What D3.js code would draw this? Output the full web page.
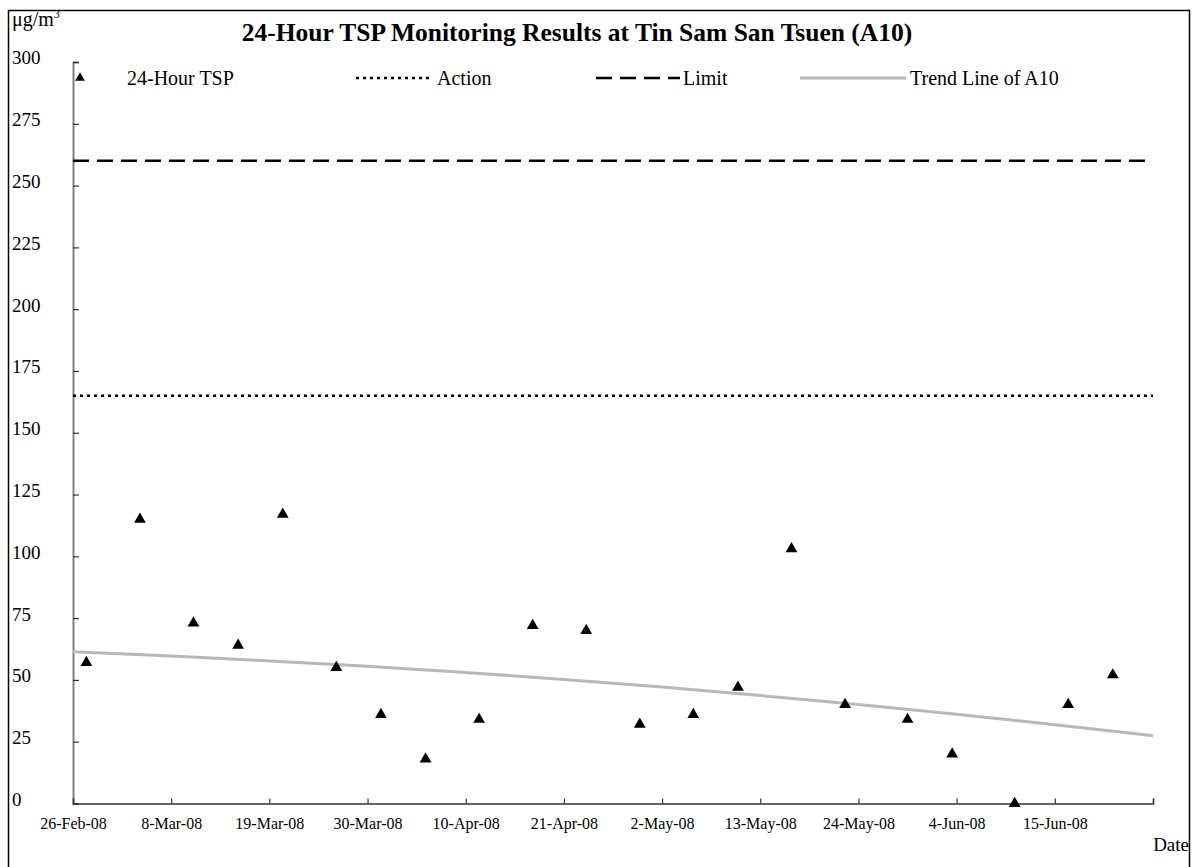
<!DOCTYPE html>
<html>
<head>
<meta charset="utf-8">
<script src="https://cdn.jsdelivr.net/npm/d3@7"></script>
<style>
  html, body { margin: 0; padding: 0; background: #fff; }
  svg { display: block; }
  text { font-family: "Liberation Serif", "Times New Roman", serif; fill: #000; }
</style>
</head>
<body>
<svg id="chart" width="1195" height="867"></svg>
<script>
// ---- data ----
const sampleDates = ["2008-02-27","2008-03-04","2008-03-10","2008-03-15","2008-03-20","2008-03-26",
  "2008-03-31","2008-04-05","2008-04-11","2008-04-17","2008-04-23","2008-04-29","2008-05-05",
  "2008-05-10","2008-05-16","2008-05-22","2008-05-29","2008-06-03","2008-06-10","2008-06-16","2008-06-21"];
const tspValues = [57, 115, 73, 64, 117, 55, 36, 18, 34, 72, 70, 32, 36, 47, 103, 40, 34, 20, 0, 40, 52];
const actionLevel = 165;
const limitLevel = 260;
const trendDates = ["2008-02-26","2008-03-08","2008-03-19","2008-03-30","2008-04-10","2008-04-21",
  "2008-05-02","2008-05-13","2008-05-24","2008-06-04","2008-06-15","2008-06-26"];
const trendValues = [61.4, 59.7, 57.7, 55.5, 53.0, 50.2, 47.1, 43.7, 40.1, 36.1, 31.9, 27.4];
const xTickDates = ["2008-02-26","2008-03-08","2008-03-19","2008-03-30","2008-04-10","2008-04-21",
  "2008-05-02","2008-05-13","2008-05-24","2008-06-04","2008-06-15","2008-06-26"];
const yTicks = [0, 25, 50, 75, 100, 125, 150, 175, 200, 225, 250, 275, 300];
const titleText = "24-Hour TSP Monitoring Results at Tin Sam San Tsuen (A10)";
const legendLabels = ["24-Hour TSP", "Action", "Limit", "Trend Line of A10"];

// ---- setup ----
const parse = d3.timeParse("%Y-%m-%d");
const fmt = d3.timeFormat("%-d-%b-%y");
const svg = d3.select("#chart");

const x = d3.scaleTime()
  .domain([parse("2008-02-26"), parse("2008-06-26")])
  .range([73, 1153]);
const y = d3.scaleLinear().domain([0, 300]).range([803.5, 62]);

// outer frame
svg.append("rect").attr("x", 8.5).attr("y", 10.5).attr("width", 1181).attr("height", 870)
  .attr("fill", "none").attr("stroke", "#000").attr("stroke-width", 1.5);

// title
svg.append("text").attr("x", 577).attr("y", 41).attr("text-anchor", "middle")
  .style("font-size", "25.5px").style("font-weight", "bold").text(titleText);

// unit label
const unit = svg.append("text").attr("x", 12).attr("y", 26).style("font-size", "20px");
unit.append("tspan").text("\u03BCg/m");
unit.append("tspan").attr("dy", -8).style("font-size", "12px").text("3");

// y axis
const yAxis = d3.axisLeft(y).tickValues(yTicks).tickSize(-6).tickPadding(0).tickFormat(d3.format("d"));
const gy = svg.append("g").attr("transform", "translate(73,0)").call(yAxis);
gy.select(".domain").attr("stroke", "#808080").attr("stroke-width", 2);
gy.selectAll(".tick line").attr("stroke", "#333").attr("stroke-width", 1.2);
gy.selectAll(".tick text").attr("x", 12 - 73).attr("text-anchor", "start").attr("dy", "0.1em")
  .style("font-family", '"Liberation Serif", serif').style("font-size", "19px").attr("fill", "#000");

// x axis
const xAxis = d3.axisBottom(x).tickValues(xTickDates.map(parse)).tickSize(-5).tickPadding(0)
  .tickFormat((d, i) => i === xTickDates.length - 1 ? "" : fmt(d));
const gx = svg.append("g").attr("transform", "translate(0,803.5)").call(xAxis);
gx.select(".domain").attr("stroke", "#333").attr("stroke-width", 1.5);
gx.selectAll(".tick line").attr("stroke", "#333").attr("stroke-width", 1.2);
gx.selectAll(".tick text").attr("y", 25).attr("dy", 0)
  .style("font-family", '"Liberation Serif", serif').style("font-size", "16px").attr("fill", "#000");

// date label
svg.append("text").attr("x", 1189).attr("y", 851).attr("text-anchor", "end")
  .style("font-size", "19px").text("Date");

// reference lines
svg.append("line").attr("x1", x.range()[0]).attr("x2", x.range()[1])
  .attr("y1", y(actionLevel)).attr("y2", y(actionLevel))
  .attr("stroke", "#000").attr("stroke-width", 2.5).attr("stroke-dasharray", "3,4");
svg.append("line").attr("x1", x.range()[0]).attr("x2", x.range()[1])
  .attr("y1", y(limitLevel)).attr("y2", y(limitLevel))
  .attr("stroke", "#000").attr("stroke-width", 2.5).attr("stroke-dasharray", "16,8");

// trend line
const trendData = trendDates.map((d, i) => ({ date: parse(d), value: trendValues[i] }));
svg.append("path").datum(trendData)
  .attr("fill", "none").attr("stroke", "#b8b8b8").attr("stroke-width", 3)
  .attr("d", d3.line().x(d => x(d.date)).y(d => y(d.value)).curve(d3.curveMonotoneX));

// data points (centred in their day slot)
const pts = sampleDates.map((d, i) => ({ date: d3.timeHour.offset(parse(d), 12), value: tspValues[i] }));
const tri = d3.symbol().type(d3.symbolTriangle).size(60);
svg.append("g").selectAll("path").data(pts).join("path")
  .attr("transform", d => `translate(${x(d.date)},${y(d.value)})`)
  .attr("d", tri).attr("fill", "#000");

// legend
const ly = 78;
const lg = svg.append("g").attr("class", "legend");
lg.append("path").attr("transform", `translate(80,${ly})`)
  .attr("d", d3.symbol().type(d3.symbolTriangle).size(42)).attr("fill", "#000");
lg.append("text").attr("x", 127).attr("y", ly + 7).style("font-size", "20px").text(legendLabels[0]);
lg.append("line").attr("x1", 356).attr("x2", 432).attr("y1", ly).attr("y2", ly)
  .attr("stroke", "#000").attr("stroke-width", 2.5).attr("stroke-dasharray", "3,4");
lg.append("text").attr("x", 437).attr("y", ly + 7).style("font-size", "20px").text(legendLabels[1]);
lg.append("line").attr("x1", 596).attr("x2", 680).attr("y1", ly).attr("y2", ly)
  .attr("stroke", "#000").attr("stroke-width", 2.5).attr("stroke-dasharray", "16,8");
lg.append("text").attr("x", 683).attr("y", ly + 7).style("font-size", "20px").text(legendLabels[2]);
lg.append("line").attr("x1", 800).attr("x2", 906).attr("y1", ly).attr("y2", ly)
  .attr("stroke", "#b8b8b8").attr("stroke-width", 3);
lg.append("text").attr("x", 910).attr("y", ly + 7).style("font-size", "20px").text(legendLabels[3]);
</script>
</body>
</html>
